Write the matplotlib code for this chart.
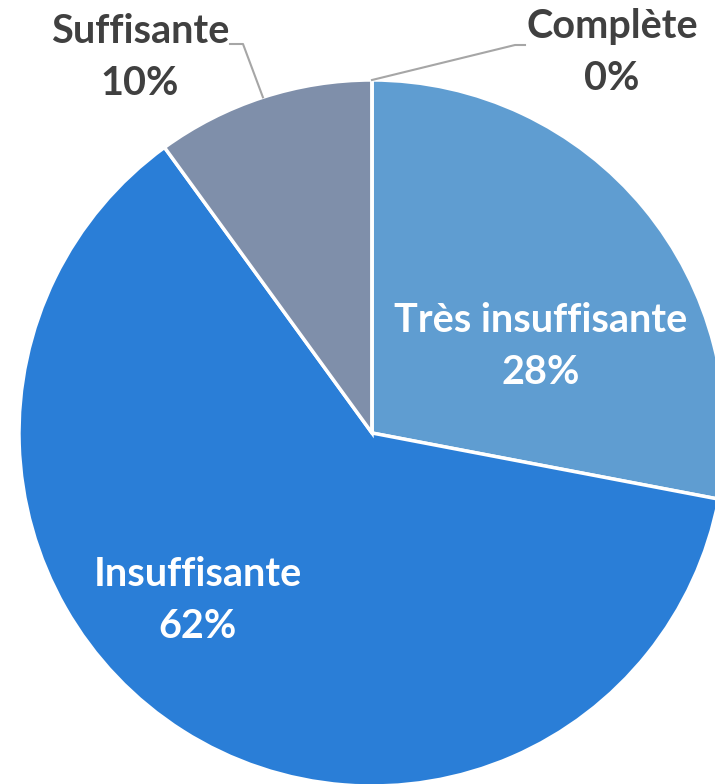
import numpy as np
import matplotlib
matplotlib.use('Agg')
import matplotlib.pyplot as plt

# Data
categories = ['Très insuffisante', 'Insuffisante', 'Suffisante', 'Complète']
shares = [28, 62, 10, 0]
colors = ['#5F9DD1', '#2A7ED7', '#7F8FAA', '#A5A5A5']

W, H = 715, 784
fig = plt.figure(figsize=(W / 100, H / 100), dpi=100)
ax = fig.add_axes([0, 0, 1, 1])

cx, cy, r = 372, H - 433, 353
wedges, _ = ax.pie(shares, colors=colors, startangle=90, counterclock=False,
                   center=(cx, cy), radius=r, frame=True,
                   wedgeprops=dict(edgecolor='white', linewidth=2.5))
ax.set_xlim(0, W)
ax.set_ylim(0, H)
ax.set_aspect('equal')
ax.axis('off')

font = dict(family=['Lato', 'DejaVu Sans'], fontweight='bold', fontsize=28.5,
            ha='center', va='center', linespacing=1.5)


def label(i):
    return f'{categories[i]}\n{shares[i] / sum(shares):.0%}'


# labels inside the slices
ax.text(541, H - 346, label(0), color='white', **font)
ax.text(198, H - 601, label(1), color='white', **font)

# outside labels with leader lines
outside = {2: ((140, H - 57), (243, H - 44), (230, H - 44)),
           3: ((612, H - 52), (515, H - 45), (525, H - 45))}
for i, (pos, elbow, end) in outside.items():
    w = wedges[i]
    mid = np.deg2rad((w.theta1 + w.theta2) / 2)
    ex, ey = cx + r * np.cos(mid), cy + r * np.sin(mid)
    ax.plot([ex, elbow[0], end[0]], [ey, elbow[1], end[1]], color='#A6A6A6', lw=1.5)
    ax.text(pos[0], pos[1], label(i), color='#404040', **font)

fig.savefig('out.png', dpi=100)
